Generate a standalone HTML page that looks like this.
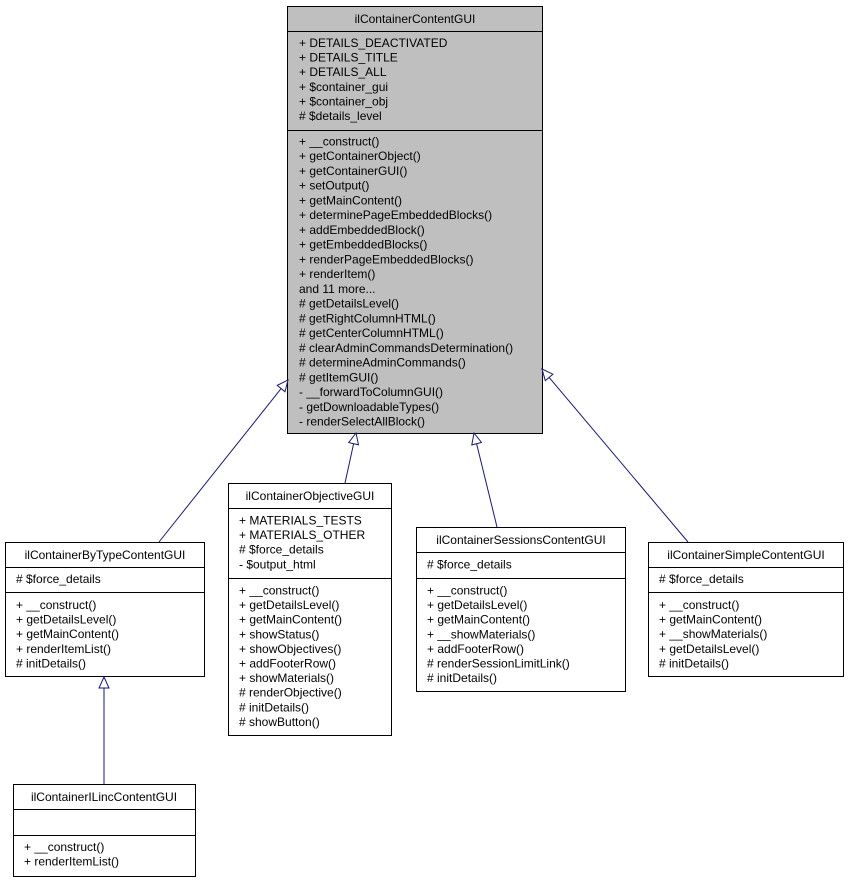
<!DOCTYPE html>
<html><head><meta charset="utf-8"><style>
html,body{margin:0;padding:0;background:#fff;}
svg{display:block;}
text{font-family:"Liberation Sans",Arial,sans-serif;font-size:12px;fill:#000;}
</style></head><body>
<svg width="849" height="881" viewBox="0 0 849 881" xmlns="http://www.w3.org/2000/svg">
<g stroke="#000" stroke-width="1">
<!-- main -->
<rect x="287.5" y="6.5" width="255" height="427" fill="#bfbfbf"/>
<line x1="287.5" y1="31.5" x2="542.5" y2="31.5"/>
<line x1="287.5" y1="130.5" x2="542.5" y2="130.5"/>
<!-- bytype -->
<rect x="5.5" y="542.5" width="199" height="134" fill="#fff"/>
<line x1="5.5" y1="567.5" x2="204.5" y2="567.5"/>
<line x1="5.5" y1="592.5" x2="204.5" y2="592.5"/>
<!-- objective -->
<rect x="228.5" y="483.5" width="163" height="252" fill="#fff"/>
<line x1="228.5" y1="508.5" x2="391.5" y2="508.5"/>
<line x1="228.5" y1="578.5" x2="391.5" y2="578.5"/>
<!-- sessions -->
<rect x="416.5" y="527.5" width="209" height="164" fill="#fff"/>
<line x1="416.5" y1="552.5" x2="625.5" y2="552.5"/>
<line x1="416.5" y1="578.5" x2="625.5" y2="578.5"/>
<!-- simple -->
<rect x="648.5" y="542.5" width="195" height="134" fill="#fff"/>
<line x1="648.5" y1="567.5" x2="843.5" y2="567.5"/>
<line x1="648.5" y1="592.5" x2="843.5" y2="592.5"/>
<!-- ilinc -->
<rect x="13.5" y="784.5" width="182" height="92" fill="#fff"/>
<line x1="13.5" y1="809.5" x2="195.5" y2="809.5"/>
<line x1="13.5" y1="835.5" x2="195.5" y2="835.5"/>
</g>
<g stroke="#191970" stroke-width="1" fill="#fff">
<line x1="159" y1="542" x2="281.1" y2="388.6"/>
<polygon points="288,380 285,391.7 277.2,385.4"/>
<line x1="345" y1="483" x2="353.6" y2="443.7"/>
<polygon points="356,433 358.5,444.8 348.7,442.6"/>
<line x1="497" y1="527" x2="476.6" y2="443.7"/>
<polygon points="474,433 481.5,442.5 471.8,444.9"/>
<line x1="688" y1="542" x2="549.1" y2="377.4"/>
<polygon points="542,369 552.9,374.2 545.3,380.6"/>
<line x1="104" y1="688" x2="104" y2="784"/>
<polygon points="104,677 109,688 99,688"/>
</g>
<text x="415" y="23" text-anchor="middle">ilContainerContentGUI</text>
<g>
<text x="299" y="47">+ DETAILS_DEACTIVATED</text>
<text x="299" y="61.6">+ DETAILS_TITLE</text>
<text x="299" y="76.2">+ DETAILS_ALL</text>
<text x="299" y="90.8">+ $container_gui</text>
<text x="299" y="105.4">+ $container_obj</text>
<text x="299" y="120">#  $details_level</text>
</g>
<g>
<text x="299" y="145.5">+  __construct()</text>
<text x="299" y="160.2">+ getContainerObject()</text>
<text x="299" y="174.9">+ getContainerGUI()</text>
<text x="299" y="189.7">+ setOutput()</text>
<text x="299" y="204.4">+ getMainContent()</text>
<text x="299" y="219.2">+ determinePageEmbeddedBlocks()</text>
<text x="299" y="233.9">+ addEmbeddedBlock()</text>
<text x="299" y="248.7">+ getEmbeddedBlocks()</text>
<text x="299" y="263.4">+ renderPageEmbeddedBlocks()</text>
<text x="299" y="278.2">+ renderItem()</text>
<text x="299" y="292.9">and 11 more...</text>
<text x="299" y="307.6">#  getDetailsLevel()</text>
<text x="299" y="322.4">#  getRightColumnHTML()</text>
<text x="299" y="337.1">#  getCenterColumnHTML()</text>
<text x="299" y="351.9">#  clearAdminCommandsDetermination()</text>
<text x="299" y="366.6">#  determineAdminCommands()</text>
<text x="299" y="381.4">#  getItemGUI()</text>
<text x="299" y="396.1">-  __forwardToColumnGUI()</text>
<text x="299" y="410.9">-  getDownloadableTypes()</text>
<text x="299" y="425.6">-  renderSelectAllBlock()</text>
</g>
<text x="105" y="559" text-anchor="middle">ilContainerByTypeContentGUI</text>
<text x="16" y="583">#  $force_details</text>
<text x="16" y="609">+  __construct()</text>
<text x="16" y="623.6">+ getDetailsLevel()</text>
<text x="16" y="638.2">+ getMainContent()</text>
<text x="16" y="652.8">+ renderItemList()</text>
<text x="16" y="667.4">#  initDetails()</text>

<text x="310" y="500" text-anchor="middle">ilContainerObjectiveGUI</text>
<text x="239" y="524.5">+ MATERIALS_TESTS</text>
<text x="239" y="539.1">+ MATERIALS_OTHER</text>
<text x="239" y="553.7">#  $force_details</text>
<text x="239" y="568.3">-  $output_html</text>
<text x="239" y="594.5">+  __construct()</text>
<text x="239" y="609.1">+ getDetailsLevel()</text>
<text x="239" y="623.7">+ getMainContent()</text>
<text x="239" y="638.3">+ showStatus()</text>
<text x="239" y="652.9">+ showObjectives()</text>
<text x="239" y="667.5">+ addFooterRow()</text>
<text x="239" y="682.1">+ showMaterials()</text>
<text x="239" y="696.7">#  renderObjective()</text>
<text x="239" y="711.3">#  initDetails()</text>
<text x="239" y="725.9">#  showButton()</text>

<text x="521" y="544" text-anchor="middle">ilContainerSessionsContentGUI</text>
<text x="427" y="568.5">#  $force_details</text>
<text x="427" y="594.5">+  __construct()</text>
<text x="427" y="609.1">+ getDetailsLevel()</text>
<text x="427" y="623.7">+ getMainContent()</text>
<text x="427" y="638.3">+  __showMaterials()</text>
<text x="427" y="652.9">+ addFooterRow()</text>
<text x="427" y="667.5">#  renderSessionLimitLink()</text>
<text x="427" y="682.1">#  initDetails()</text>

<text x="746" y="559" text-anchor="middle">ilContainerSimpleContentGUI</text>
<text x="659" y="583">#  $force_details</text>
<text x="659" y="609">+  __construct()</text>
<text x="659" y="623.6">+ getMainContent()</text>
<text x="659" y="638.2">+  __showMaterials()</text>
<text x="659" y="652.8">+ getDetailsLevel()</text>
<text x="659" y="667.4">#  initDetails()</text>

<text x="104" y="801" text-anchor="middle">ilContainerILincContentGUI</text>
<text x="24" y="851">+  __construct()</text>
<text x="24" y="865.6">+ renderItemList()</text>
</svg>
</body></html>
